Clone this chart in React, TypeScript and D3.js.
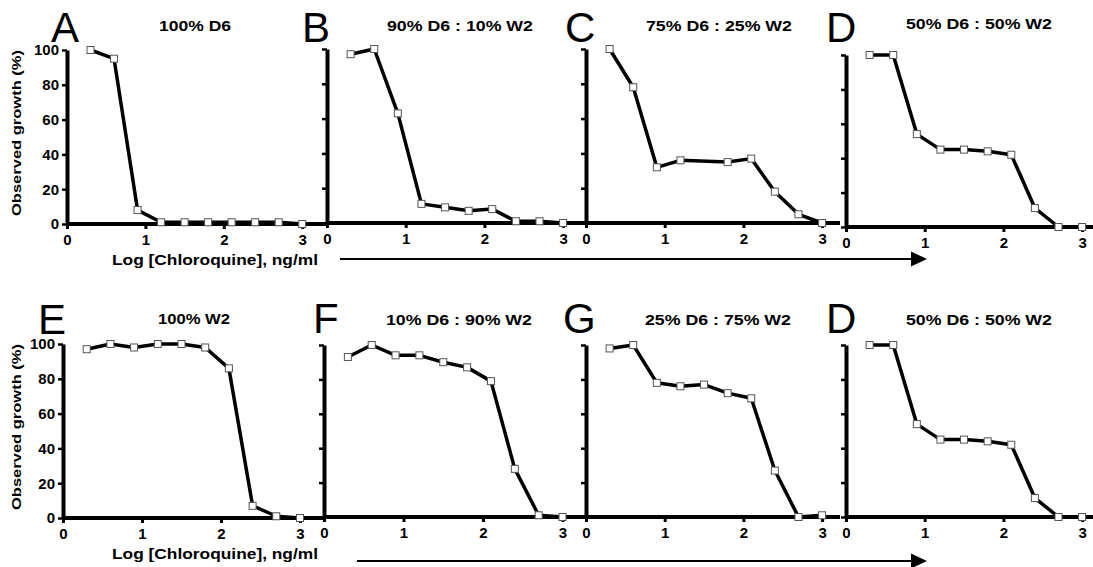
import React, { useRef, useEffect } from "react";
import { select, scaleLinear, axisLeft, axisBottom, line } from "d3";

// log10 of chloroquine dose, ng/ml
const doses = [0.3, 0.6, 0.9, 1.2, 1.5, 1.8, 2.1, 2.4, 2.7, 3.0];
const xTicks = [0, 1, 2, 3];
const yTicks = [0, 20, 40, 60, 80, 100];

const panelLetters = ["A", "B", "C", "D", "E", "F", "G", "D"];
const panelTitles = [
  "100% D6",
  "90% D6 : 10% W2",
  "75% D6 : 25% W2",
  "50% D6 : 50% W2",
  "100% W2",
  "10% D6 : 90% W2",
  "25% D6 : 75% W2",
  "50% D6 : 50% W2",
];

// observed growth (%), null = no point
const growthA = [100, 95, 8, 1, 1, 1, 1, 1, 1, 0];
const growthB = [97, 100, 63, 11, 9, 7, 8, 1, 1, 0];
const growthC = [100, 78, 32, 36, null, 35, 37, 18, 5, 0];
const growthD = [100, 100, 54, 45, 45, 44, 42, 11, 0, 0];
const growthE = [97, 100, 98, 100, 100, 98, 86, 7, 1, 0];
const growthF = [93, 100, 94, 94, 90, 87, 79, 28, 1, 0];
const growthG = [98, 100, 78, 76, 77, 72, 69, 27, 0, 1];
const growthH = [100, 100, 54, 45, 45, 44, 42, 11, 0, 0];
const series = [growthA, growthB, growthC, growthD, growthE, growthF, growthG, growthH];

// where each panel sits on the page
const layout = [
  { x0: 67, unit: 78.4, yTop: 50, yBot: 224, xEnd: 327, lx: 51, ly: 42, tx: 195, ty: 31 },
  { x0: 327, unit: 78.7, yTop: 49, yBot: 223, xEnd: 586, lx: 302, ly: 42, tx: 460, ty: 31 },
  { x0: 586, unit: 78.7, yTop: 49, yBot: 223, xEnd: 840, lx: 565, ly: 42, tx: 719, ty: 31 },
  { x0: 846, unit: 78.7, yTop: 55, yBot: 227, xEnd: 1093, lx: 826, ly: 42, tx: 979, ty: 29 },
  { x0: 63, unit: 79, yTop: 344, yBot: 518, xEnd: 324, lx: 38, ly: 334, tx: 194, ty: 324 },
  { x0: 324, unit: 79.5, yTop: 345, yBot: 517, xEnd: 586, lx: 313, ly: 333, tx: 459, ty: 325 },
  { x0: 586, unit: 78.7, yTop: 345, yBot: 517, xEnd: 840, lx: 563, ly: 333, tx: 718, ty: 325 },
  { x0: 846, unit: 78.7, yTop: 345, yBot: 517, xEnd: 1093, lx: 826, ly: 333, tx: 979, ty: 325 },
];

const FONT = "'Liberation Sans', Arial, Helvetica, sans-serif";

const App = () => {
  const svgRef = useRef<SVGSVGElement>(null);

  useEffect(() => {
    const svg = select(svgRef.current);
    svg.selectAll("*").remove();

    series.forEach((values, i) => {
      const L = layout[i];
      const g = svg.append("g");

      const x = scaleLinear().domain([0, 3]).range([L.x0, L.x0 + 3 * L.unit]);
      const y = scaleLinear().domain([0, 100]).range([L.yBot, L.yTop]);

      // panel letter
      g.append("text")
        .attr("x", L.lx)
        .attr("y", L.ly)
        .attr("font-family", FONT)
        .attr("font-size", 42)
        .attr("font-weight", 300)
        .text(panelLetters[i]);

      // title
      const title = panelTitles[i];
      g.append("text")
        .attr("x", L.tx)
        .attr("y", L.ty)
        .attr("text-anchor", "middle")
        .attr("font-family", FONT)
        .attr("font-size", 14)
        .attr("font-weight", "bold")
        .attr("textLength", title.length > 8 ? 146 : 72)
        .attr("lengthAdjust", "spacingAndGlyphs")
        .text(title);

      // x axis: long baseline running into the next panel
      g.append("line")
        .attr("x1", L.x0)
        .attr("x2", L.xEnd)
        .attr("y1", L.yBot)
        .attr("y2", L.yBot)
        .attr("stroke", "#000")
        .attr("stroke-width", 4);

      const xAxis = axisBottom(x).tickValues(xTicks).tickSize(5).tickPadding(5).tickFormat((d) => String(d));
      const gx = g.append("g").attr("transform", `translate(0,${L.yBot})`).call(xAxis);
      gx.select(".domain").remove();
      gx.selectAll(".tick line").attr("stroke-width", 3);
      gx.selectAll("text")
        .attr("font-family", FONT)
        .attr("font-size", 15)
        .attr("font-weight", "bold")
        .attr("fill", "#000");

      const col = i % 4;
      const yAxis = axisLeft(y)
        .tickValues(yTicks)
        .tickSize(5)
        .tickSizeOuter(0)
        .tickPadding(3)
        .tickFormat((d) => (col === 0 ? String(d) : ""));
      const gy = g.append("g").attr("transform", `translate(${L.x0},0)`).call(yAxis);
      gy.select(".domain").attr("stroke-width", 4);
      gy.selectAll(".tick line").attr("stroke-width", 2.5);
      gy.selectAll("text")
        .attr("font-family", FONT)
        .attr("font-size", 15)
        .attr("font-weight", "bold")
        .attr("fill", "#000");

      if (col === 0) {
        g.append("text")
          .attr("transform", `translate(21,${(L.yTop + L.yBot) / 2 - 4}) rotate(-90)`)
          .attr("text-anchor", "middle")
          .attr("font-family", FONT)
          .attr("font-size", 13)
          .attr("font-weight", "bold")
          .attr("textLength", 166)
          .attr("lengthAdjust", "spacingAndGlyphs")
          .text("Observed growth (%)");

        g.append("text")
          .attr("x", 112)
          .attr("y", L.yBot + 41)
          .attr("font-family", FONT)
          .attr("font-size", 15)
          .attr("font-weight", "bold")
          .attr("textLength", 206)
          .attr("lengthAdjust", "spacingAndGlyphs")
          .text("Log [Chloroquine], ng/ml");
      }

      const pts = values
        .map((v, j) => [doses[j], v] as [number, number | null])
        .filter((p) => p[1] !== null) as [number, number][];

      const curve = line<[number, number]>()
        .x((d) => x(d[0]))
        .y((d) => y(d[1]));

      g.append("path")
        .attr("d", curve(pts))
        .attr("fill", "none")
        .attr("stroke", "#000")
        .attr("stroke-width", 3.5)
        .attr("stroke-linejoin", "round");

      g.selectAll("rect.pt")
        .data(pts)
        .join("rect")
        .attr("class", "pt")
        .attr("x", (d) => x(d[0]) - 3.5)
        .attr("y", (d) => y(d[1]) - 3.5)
        .attr("width", 7)
        .attr("height", 7)
        .attr("fill", "#fff")
        .attr("stroke", "#555")
        .attr("stroke-width", 1);
    });

    // dose arrows under each row
    const arrows = [
      { x1: 340, x2: 927, y: 259 },
      { x1: 357, x2: 927, y: 561 },
    ];
    arrows.forEach((a) => {
      svg.append("line")
        .attr("x1", a.x1)
        .attr("x2", a.x2 - 14)
        .attr("y1", a.y)
        .attr("y2", a.y)
        .attr("stroke", "#000")
        .attr("stroke-width", 2);
      svg.append("path")
        .attr("d", `M${a.x2 - 16},${a.y - 7.5} L${a.x2},${a.y} L${a.x2 - 16},${a.y + 7.5} Z`)
        .attr("fill", "#000");
    });
  }, []);

  return (
    <svg
      ref={svgRef}
      width={1093}
      height={567}
      style={{ position: "absolute", left: 0, top: 0, background: "#fff" }}
    />
  );
};

export default App;
